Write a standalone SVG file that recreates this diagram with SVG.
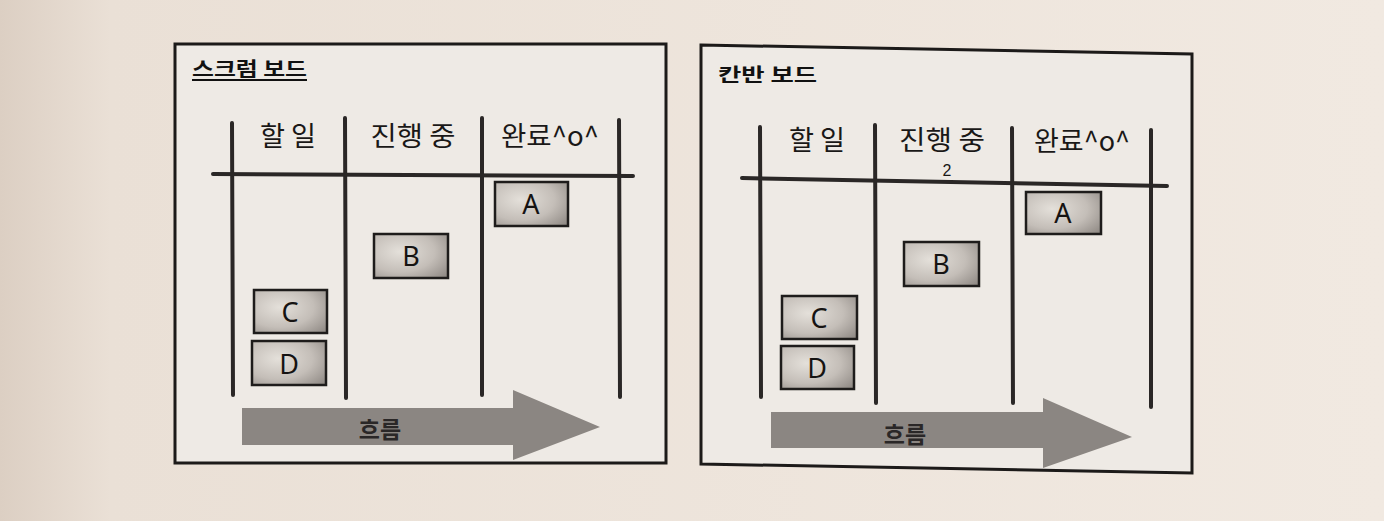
<svg xmlns="http://www.w3.org/2000/svg" width="1384" height="521" viewBox="0 0 1384 521">
  <defs>
    <linearGradient id="page" x1="0" y1="0" x2="1" y2="0">
      <stop offset="0" stop-color="#dccfc3"/>
      <stop offset="0.08" stop-color="#eae0d6"/>
      <stop offset="1" stop-color="#f1e9e1"/>
    </linearGradient>
    <radialGradient id="card" cx="0.35" cy="0.4" r="0.85">
      <stop offset="0" stop-color="#e4e0da"/>
      <stop offset="0.55" stop-color="#c4beb8"/>
      <stop offset="1" stop-color="#8e8883"/>
    </radialGradient>
  </defs>
  <style>
    .frame{fill:#eeeae5;stroke:#1c1a19;stroke-width:3}
    .line{stroke:#2a2726;stroke-width:4;stroke-linecap:round;fill:none}
    .card{fill:url(#card);stroke:#1e1c1b;stroke-width:2.5}
    .cardtxt{font-family:"Noto Sans","DejaVu Sans",sans-serif;font-size:27px;fill:#151312;text-anchor:middle}
    .head{font-family:"Noto Sans CJK KR",sans-serif;font-size:27px;fill:#1a1817;text-anchor:middle}
    .wip{font-family:"Liberation Sans",sans-serif;font-size:16px;fill:#1a1817;text-anchor:middle}
    .title{font-family:"Noto Sans CJK KR",sans-serif;font-size:19px;font-weight:bold;fill:#111}
    .flow{fill:#8b8682}
    .flowtxt{font-family:"Noto Sans CJK KR",sans-serif;font-size:23px;font-weight:bold;fill:#2a2727;text-anchor:middle}
  </style>
  <rect x="0" y="0" width="1384" height="521" fill="url(#page)"/>

  <g id="scrum-board">
    <rect class="frame" x="175" y="44" width="491" height="419"/>
    <text class="title" x="192" y="76" textLength="115" lengthAdjust="spacingAndGlyphs">스크럼 보드</text>
    <line x1="192" y1="80" x2="307" y2="80" stroke="#111" stroke-width="2"/>
    <g id="scrum-grid">
      <line class="line" x1="232" y1="123" x2="233" y2="395"/>
      <line class="line" x1="345" y1="118" x2="346" y2="398"/>
      <line class="line" x1="482" y1="118" x2="482" y2="395"/>
      <line class="line" x1="619" y1="120" x2="620" y2="397"/>
      <line class="line" x1="213" y1="174" x2="633" y2="176"/>
    </g>
    <g id="scrum-headers">
      <text class="head" x="288" y="146" textLength="56" lengthAdjust="spacingAndGlyphs">할 일</text>
      <text class="head" x="413" y="146" textLength="85" lengthAdjust="spacingAndGlyphs">진행 중</text>
      <text class="head" x="550" y="146" textLength="98" lengthAdjust="spacingAndGlyphs">완료^o^</text>
    </g>
    <g id="scrum-card-a"><rect class="card" x="495" y="182" width="73" height="44"/><text class="cardtxt" x="531" y="214">A</text></g>
    <g id="scrum-card-b"><rect class="card" x="374" y="234" width="74" height="44"/><text class="cardtxt" x="411" y="266">B</text></g>
    <g id="scrum-card-c"><rect class="card" x="254" y="290" width="73" height="43"/><text class="cardtxt" x="290" y="322">C</text></g>
    <g id="scrum-card-d"><rect class="card" x="252" y="341" width="74" height="44"/><text class="cardtxt" x="289" y="374">D</text></g>
    <g id="scrum-flow">
      <polygon class="flow" points="242,408 513,408 513,390 600,427 513,460 513,445 242,445"/>
      <text class="flowtxt" x="380" y="438">흐름</text>
    </g>
  </g>

  <g id="kanban-board">
    <polygon class="frame" points="701,45 1192,54 1192,473 701,464"/>
    <text class="title" x="718" y="82" textLength="99" lengthAdjust="spacingAndGlyphs">칸반 보드</text>
    <g id="kanban-grid">
      <line class="line" x1="760" y1="127" x2="761" y2="397"/>
      <line class="line" x1="875" y1="125" x2="876" y2="403"/>
      <line class="line" x1="1012" y1="128" x2="1013" y2="403"/>
      <line class="line" x1="1151" y1="130" x2="1151" y2="407"/>
      <line class="line" x1="742" y1="178" x2="1167" y2="186"/>
    </g>
    <g id="kanban-headers">
      <text class="head" x="817" y="150" textLength="56" lengthAdjust="spacingAndGlyphs">할 일</text>
      <text class="head" x="942" y="150" textLength="86" lengthAdjust="spacingAndGlyphs">진행 중</text>
      <text class="head" x="1082" y="151" textLength="96" lengthAdjust="spacingAndGlyphs">완료^o^</text>
      <text class="wip" x="947" y="176">2</text>
    </g>
    <g id="kanban-card-a"><rect class="card" x="1026" y="192" width="75" height="42"/><text class="cardtxt" x="1063" y="223">A</text></g>
    <g id="kanban-card-b"><rect class="card" x="904" y="242" width="75" height="44"/><text class="cardtxt" x="941" y="274">B</text></g>
    <g id="kanban-card-c"><rect class="card" x="782" y="296" width="75" height="43"/><text class="cardtxt" x="819" y="328">C</text></g>
    <g id="kanban-card-d"><rect class="card" x="781" y="346" width="73" height="43"/><text class="cardtxt" x="817" y="378">D</text></g>
    <g id="kanban-flow">
      <polygon class="flow" points="771,412 1043,412 1043,398 1132,437 1043,468 1043,448 771,448"/>
      <text class="flowtxt" x="905" y="443">흐름</text>
    </g>
  </g>
</svg>
